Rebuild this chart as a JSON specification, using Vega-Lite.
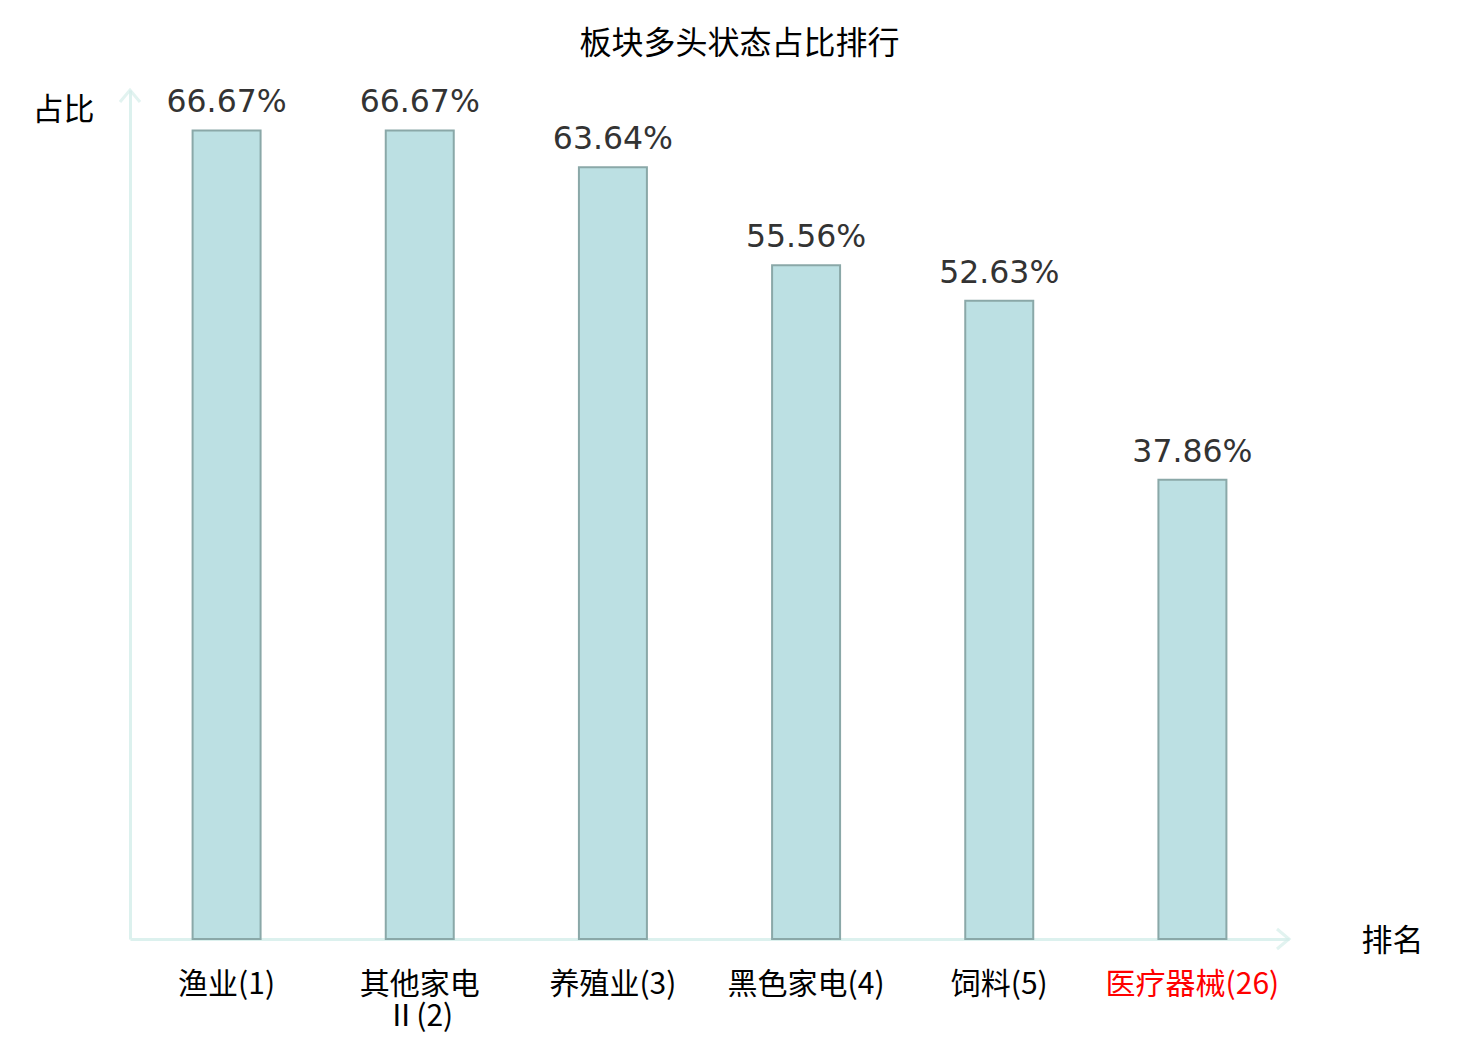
{
  "$schema": "https://vega.github.io/schema/vega-lite/v6.json",
  "autosize": "none",
  "width": 1159,
  "height": 849,
  "padding": {"left": 130, "top": 90, "right": 191, "bottom": 101},
  "background": "white",
  "title": {
    "text": "板块多头状态占比排行",
    "font": "Noto Sans CJK SC",
    "fontSize": 32,
    "fontWeight": "normal",
    "color": "#000000",
    "anchor": "middle",
    "frame": "group",
    "dx": 30,
    "offset": 23
  },
  "config": {
    "view": {"stroke": null},
    "text": {"font": "DejaVu Sans"}
  },
  "data": {
    "values": [
      {"board": "渔业(1)", "ratio": 66.67},
      {"board": "其他家电Ⅱ(2)", "ratio": 66.67},
      {"board": "养殖业(3)", "ratio": 63.64},
      {"board": "黑色家电(4)", "ratio": 55.56},
      {"board": "饲料(5)", "ratio": 52.63},
      {"board": "医疗器械(26)", "ratio": 37.86}
    ]
  },
  "encoding": {
    "x": {
      "field": "board",
      "type": "nominal",
      "sort": null,
      "scale": {"paddingInner": 0.648, "paddingOuter": 0.324},
      "axis": {
        "title": "排名",
        "titleFont": "Noto Sans CJK SC",
        "titleFontSize": 31,
        "titleFontWeight": "normal",
        "titleColor": "#000000",
        "titleAngle": 0,
        "titleX": 1262,
        "titleY": 2,
        "titleAlign": "center",
        "titleBaseline": "middle",
        "labelAngle": 0,
        "labelFont": "DejaVu Sans ExtraLight, Noto Sans CJK SC",
        "labelFontSize": 30,
        "labelPadding": 30,
        "labelLineHeight": 32,
        "labelColor": {
          "condition": {"test": "datum.value == '医疗器械(26)'", "value": "#ff0000"},
          "value": "#000000"
        },
        "labelExpr": "datum.value == '其他家电Ⅱ(2)' ? ['其他家电', 'Ⅱ(2)'] : datum.value",
        "ticks": false,
        "domainColor": "#dcf1ee",
        "domainWidth": 3,
        "grid": false
      }
    },
    "y": {
      "field": "ratio",
      "type": "quantitative",
      "scale": {"domain": [0, 70], "nice": false},
      "axis": {
        "title": "占比",
        "titleFont": "Noto Sans CJK SC",
        "titleFontSize": 31,
        "titleFontWeight": "normal",
        "titleColor": "#000000",
        "titleAngle": 0,
        "titleX": -67,
        "titleY": 20,
        "titleAlign": "center",
        "titleBaseline": "middle",
        "labels": false,
        "ticks": false,
        "grid": false,
        "domainColor": "#dcf1ee",
        "domainWidth": 3
      }
    }
  },
  "layer": [
    {
      "mark": {"type": "bar", "fill": "#bce0e3", "stroke": "#8aa8a8", "strokeWidth": 2}
    },
    {
      "mark": {"type": "text", "baseline": "alphabetic", "dy": -18, "fontSize": 31.5, "color": "#333333"},
      "encoding": {
        "text": {"value": {"expr": "format(datum.ratio, '.2f') + '%'"}}
      }
    },
    {
      "data": {"values": [{"axis": "y"}]},
      "mark": {"type": "point", "shape": "M-1,1.2L0,0L1,1.2", "size": 400, "filled": false, "stroke": "#d6eeeb", "strokeWidth": 3},
      "encoding": {
        "x": {"value": 0},
        "y": {"value": 0}
      }
    },
    {
      "data": {"values": [{"axis": "x"}]},
      "mark": {"type": "point", "shape": "M-1.2,-1L0,0L-1.2,1", "size": 400, "filled": false, "stroke": "#d6eeeb", "strokeWidth": 3},
      "encoding": {
        "x": {"value": "width"},
        "y": {"value": "height"}
      }
    }
  ]
}
